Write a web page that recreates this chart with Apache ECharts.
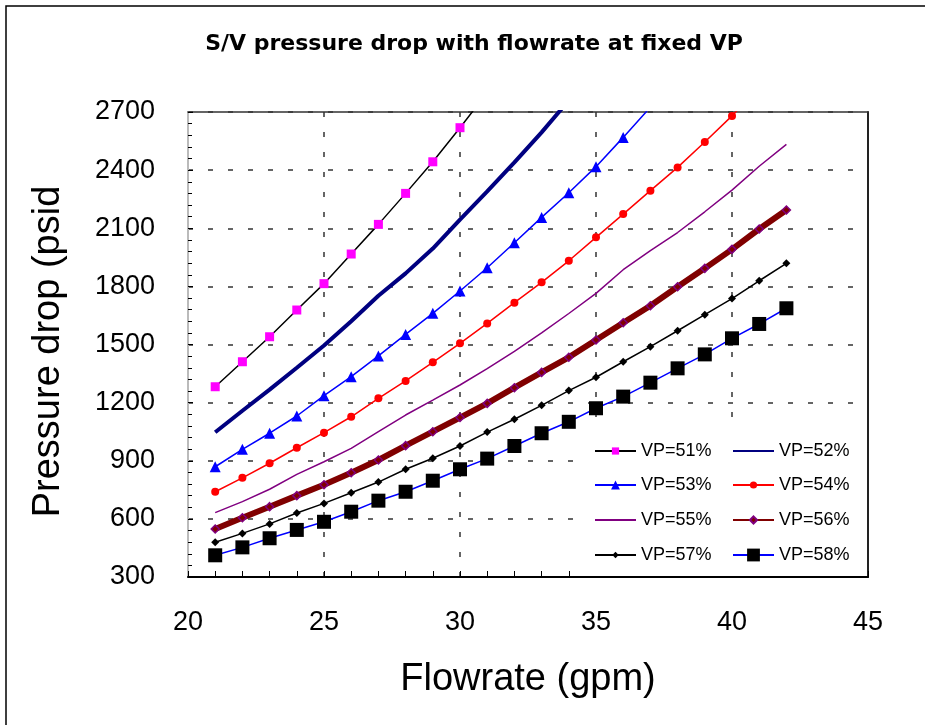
<!DOCTYPE html>
<html><head><meta charset="utf-8">
<script src="https://cdn.jsdelivr.net/npm/echarts@6/dist/echarts.min.js"></script>
<style>html,body{margin:0;padding:0;background:#fff}#c{width:925px;height:725px}</style>
</head><body><div id="c"></div>
<script>
// ---- data ----
const flowrate = [21,22,23,24,25,26,27,28,29,30,31,32,33,34,35,36,37,38,39,40,41,42];
const seriesNames = ['VP=51%','VP=52%','VP=53%','VP=54%','VP=55%','VP=56%','VP=57%','VP=58%'];
const vp51 = [1282,1411,1540,1678,1814,1967,2120,2280,2443,2619,2800];
const vp52 = [1047,1158,1267,1380,1495,1620,1752,1867,1995,2145,2290,2440,2595,2760];
const vp53 = [869,959,1042,1131,1236,1334,1441,1552,1661,1776,1896,2025,2156,2283,2418,2569,2725];
const vp54 = [740,812,887,967,1045,1127,1222,1312,1408,1506,1609,1716,1821,1932,2053,2173,2294,2414,2545,2680,2830];
const vp55 = [632,689,753,830,895,964,1050,1136,1213,1291,1375,1465,1560,1660,1764,1886,1985,2078,2185,2297,2420,2533];
const vp56 = [548,606,663,720,776,838,904,978,1050,1123,1196,1277,1356,1434,1523,1612,1700,1798,1893,1991,2096,2194];
const vp57 = [479,525,574,630,680,735,790,856,913,976,1048,1114,1186,1262,1331,1411,1489,1571,1654,1737,1829,1919];
const vp58 = [412,453,500,543,585,637,694,740,797,856,911,976,1042,1101,1171,1231,1303,1377,1449,1532,1606,1687];
const xTicks = [20,25,30,35,40,45];
const yTicks = [300,600,900,1200,1500,1800,2100,2400,2700];

const allValues = [vp51,vp52,vp53,vp54,vp55,vp56,vp57,vp58];
const pair = vals => vals.map((v,i) => [flowrate[i], v]);

// ---- styles ----
const styles = [
  {line:'#000000', w:1.5, symbol:'rect', size:9, fill:'#FF00FF', border:'#FF00FF', lh:9},
  {line:'#000080', w:4, symbol:'none', size:0, fill:'#000080', border:'#000080', lh:10, hide:true},
  {line:'#0000FF', w:1.5, symbol:'triangle', size:11, fill:'#0000FF', border:'#0000FF', lh:11},
  {line:'#FF0000', w:1.5, symbol:'circle', size:8, fill:'#FF0000', border:'#FF0000', lh:9},
  {line:'#800080', w:1.5, symbol:'none', size:0, fill:'#800080', border:'#800080', lh:10, hide:true},
  {line:'#800000', w:6, symbol:'diamond', size:8, fill:'#800000', border:'#800080', bw:1.5, lh:9},
  {line:'#000000', w:1.5, symbol:'diamond', size:8, fill:'#000000', border:'#000000', lh:8},
  {line:'#0000FF', w:1.5, symbol:'rect', size:14, fill:'#000000', border:'#000000', lh:16}
];

const FONT = "'Liberation Sans', Arial, sans-serif";

const series = allValues.map((vals, k) => {
  const s = styles[k];
  return {
    name: seriesNames[k], type: 'line', data: pair(vals),
    xAxisIndex: 0, yAxisIndex: 0,
    symbol: s.symbol, symbolSize: s.size, showSymbol: s.symbol !== 'none',
    smooth: false, clip: true, animation: false,
    lineStyle: {color: s.line, width: s.w},
    itemStyle: {color: s.fill, borderColor: s.border, borderWidth: s.bw || 0, opacity: 1},
    emphasis: {disabled: true},
    z: 2 + k * 0.01
  };
});

// legend layout: 2 columns x 4 rows
const colLeft = [594, 732];
const rowCenter = [452, 486, 521, 556];
const legends = seriesNames.map((name, k) => {
  const s = styles[k];
  const col = k % 2, row = Math.floor(k / 2);
  const item = {name: name};
  if (s.hide) item.itemStyle = {opacity: 0};
  return {
    data: [item], left: colLeft[col], top: rowCenter[row] - 10,
    orient: 'horizontal', padding: 0, itemWidth: 41, itemHeight: s.lh, itemGap: 0,
    textStyle: {fontFamily: FONT, fontSize: 18, color: '#000', padding: [0,0,0,0]},
    selectedMode: false, backgroundColor: 'transparent', z: 6
  };
});

const option = {
  backgroundColor: '#ffffff',
  animation: false,
  grid: {left: 188, right: 57, top: 112, bottom: 148, outerBoundsMode: 'none', containLabel: false, show: false},
  graphic: [
    {type: 'rect', shape: {x: 6, y: 6, width: 1000, height: 1000}, style: {fill: 'none', stroke: '#000', lineWidth: 1.5}, z: 0, silent: true},
    {type: 'rect', shape: {x: 583, y: 431, width: 283, height: 145}, style: {fill: '#fff'}, z: 3, silent: true},
    {type: 'text', x: 474, y: 44, z: 5, style: {text: 'S/V pressure drop with flowrate at fixed VP', fill: '#000',
      font: "bold 22px 'DejaVu Sans', sans-serif", textAlign: 'center', textVerticalAlign: 'middle'}}
  ],
  legend: legends,
  xAxis: [{
    type: 'value', min: 20, max: 45, interval: 5, position: 'bottom',
    name: 'Flowrate (gpm)', nameLocation: 'middle', nameGap: 84,
    nameTextStyle: {fontFamily: FONT, fontSize: 38, color: '#000'},
    axisLine: {show: true, onZero: false, lineStyle: {color: '#000', width: 2}},
    axisTick: {show: true, inside: true, length: 6, lineStyle: {color: '#000', width: 1}},
    minorTick: {show: true, splitNumber: 5, length: 6, lineStyle: {color: '#000', width: 1}},
    axisLabel: {show: true, margin: 32, fontFamily: FONT, fontSize: 27, color: '#000',
      formatter: v => xTicks.includes(v) ? String(v) : ''},
    splitLine: {show: true, lineStyle: {color: '#333', width: 1.5, type: [5, 15]}},
    minorSplitLine: {show: false}
  }, {
    type: 'value', min: 20, max: 45, interval: 5, position: 'top', gridIndex: 0,
    axisLine: {show: true, onZero: false, lineStyle: {color: '#333', width: 1.5}},
    axisTick: {show: false}, axisLabel: {show: false}, splitLine: {show: false}
  }],
  yAxis: [{
    type: 'value', min: 300, max: 2700, interval: 300, position: 'left',
    name: 'Pressure drop (psid', nameLocation: 'middle', nameGap: 120, nameRotate: 90,
    nameTextStyle: {fontFamily: FONT, fontSize: 38, color: '#000', padding: [0, 14, 0, 0]},
    axisLine: {show: true, onZero: false, lineStyle: {color: '#bbbbbb', width: 2}},
    axisTick: {show: true, inside: true, length: 5, lineStyle: {color: '#000', width: 1}},
    minorTick: {show: true, splitNumber: 5, length: 4, lineStyle: {color: '#000', width: 1}},
    axisLabel: {show: true, margin: 33, fontFamily: FONT, fontSize: 27, color: '#000',
      padding: [6, 0, 0, 0],
      formatter: v => yTicks.includes(v) ? String(v) : ''},
    splitLine: {show: true, lineStyle: {color: '#333', width: 1.5, type: [5, 15]}},
    minorSplitLine: {show: false}
  }, {
    type: 'value', min: 300, max: 2700, interval: 300, position: 'right', gridIndex: 0,
    axisLine: {show: true, onZero: false, lineStyle: {color: '#222', width: 2}},
    axisTick: {show: false}, axisLabel: {show: false}, splitLine: {show: false}
  }],
  series: series
};

const chart = echarts.init(document.getElementById('c'), null, {renderer: 'canvas'});
chart.setOption(option);
</script>
</body></html>
